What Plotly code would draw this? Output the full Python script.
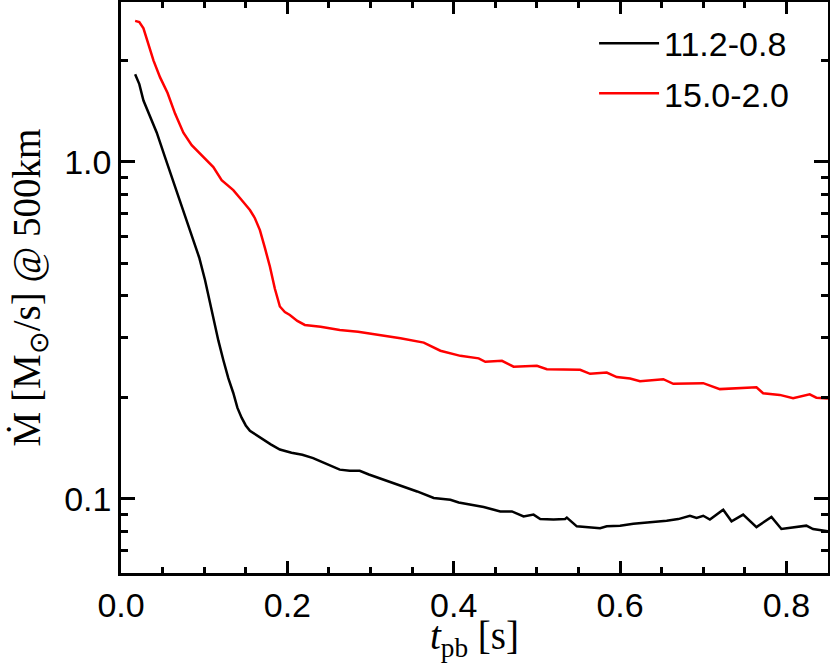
import plotly.graph_objects as go

# 11.2-0.8 model
t_112 = [0.017, 0.022, 0.027, 0.035, 0.043, 0.053, 0.063, 0.071, 0.079, 0.087,
         0.094, 0.101, 0.106, 0.111, 0.117, 0.123, 0.129, 0.135, 0.140, 0.145,
         0.150, 0.155, 0.162, 0.170, 0.180, 0.191, 0.205, 0.218, 0.231, 0.240, 0.250,
         0.263, 0.275, 0.287, 0.298, 0.311, 0.323, 0.336, 0.356, 0.376, 0.396,
         0.406, 0.420, 0.436, 0.456, 0.470, 0.484, 0.496, 0.504, 0.520, 0.534,
         0.536, 0.548, 0.560, 0.576, 0.584, 0.600, 0.616, 0.635, 0.656, 0.670,
         0.684, 0.692, 0.700, 0.708, 0.724, 0.734, 0.748, 0.764, 0.782, 0.794,
         0.810, 0.824, 0.832, 0.846, 0.850]
m_112 = [1.82, 1.70, 1.52, 1.36, 1.22, 1.03, 0.875, 0.766, 0.67, 0.586,
         0.52, 0.446, 0.39, 0.34, 0.295, 0.258, 0.228, 0.206, 0.186, 0.174,
         0.165, 0.159, 0.155, 0.150, 0.145, 0.140, 0.137, 0.135, 0.132, 0.129, 0.126,
         0.122, 0.121, 0.121, 0.118, 0.115, 0.112, 0.1093, 0.1051, 0.1005, 0.0993,
         0.0975, 0.0960, 0.0945, 0.0917, 0.0917, 0.0886, 0.0897, 0.0871, 0.0868, 0.0871,
         0.0879, 0.0828, 0.0822, 0.0818, 0.0828, 0.0832, 0.0843, 0.0850, 0.0861, 0.0870,
         0.0890, 0.0877, 0.0890, 0.0867, 0.0928, 0.0857, 0.0897, 0.0824, 0.0883, 0.0813,
         0.0825, 0.0832, 0.0813, 0.0805, 0.0800]

# 15.0-2.0 model
t_150 = [0.017, 0.022, 0.027, 0.033, 0.039, 0.047, 0.056, 0.065, 0.075, 0.085,
         0.095, 0.103, 0.111, 0.121, 0.135, 0.145, 0.155, 0.161, 0.167, 0.173,
         0.179, 0.185, 0.191, 0.197, 0.203, 0.212, 0.221, 0.240, 0.263, 0.285,
         0.311, 0.336, 0.364, 0.384, 0.408, 0.430, 0.438, 0.458, 0.472, 0.500,
         0.512, 0.552, 0.564, 0.584, 0.596, 0.612, 0.624, 0.652, 0.664, 0.684,
         0.700, 0.720, 0.752, 0.764, 0.772, 0.792, 0.808, 0.828, 0.836, 0.850]
m_150 = [2.62, 2.60, 2.49, 2.22, 2.00, 1.78, 1.60, 1.39, 1.22, 1.12,
         1.06, 1.01, 0.965, 0.882, 0.824, 0.77, 0.719, 0.68, 0.627, 0.555,
         0.489, 0.42, 0.372, 0.358, 0.351, 0.337, 0.328, 0.324, 0.317, 0.313,
         0.306, 0.2996, 0.2906, 0.275, 0.2655, 0.261, 0.255, 0.2566, 0.2466, 0.248,
         0.2424, 0.2413, 0.2348, 0.2368, 0.2296, 0.2273, 0.2233, 0.2264, 0.2193, 0.2193,
         0.2203, 0.2115, 0.213, 0.2143, 0.2057, 0.2033, 0.1988, 0.204, 0.1995, 0.1983]

y_major = [0.1, 1.0]
y_major_text = ["0.1", "1.0"]

fig = go.Figure()
fig.add_trace(go.Scatter(x=t_112, y=m_112, mode="lines", name="11.2-0.8",
                         legendgroup="a", line=dict(color="black", width=2.5)))
fig.add_trace(go.Scatter(x=t_150, y=m_150, mode="lines", name="15.0-2.0",
                         legendgroup="b", line=dict(color="#ff0000", width=2.5)))

sans = "Liberation Sans, Arial, sans-serif"
serif = "Liberation Serif, Times New Roman, serif"

fig.update_xaxes(
    range=[0, 0.85], dtick=0.2, tick0=0, tickformat=".1f",
    ticks="inside", ticklen=12, tickwidth=2.5, tickcolor="black",
    minor=dict(dtick=0.05, tick0=0, ticks="inside", ticklen=6, tickwidth=2.5, tickcolor="black"),
    showline=True, linewidth=2.5, linecolor="black", mirror="ticks",
    showgrid=False, zeroline=False, automargin=False,
    tickfont=dict(family=sans, size=34, color="black"),
    title=dict(text="<i>t</i><sub>pb</sub> [s]", font=dict(family=serif, size=39, color="black"),
               standoff=0),
)
fig.update_yaxes(
    type="log", range=[-1.2204, 0.4742],
    tickmode="array", tickvals=y_major, ticktext=y_major_text,
    ticks="inside", ticklen=14, tickwidth=2.5, tickcolor="black",
    minor=dict(dtick="D1", ticks="inside", ticklen=7, tickwidth=2.5, tickcolor="black"),
    showline=True, linewidth=2.5, linecolor="black", mirror="ticks",
    showgrid=False, zeroline=False, automargin=False,
    tickfont=dict(family=sans, size=34, color="black"),
    # leading no-break spaces nudge the rotated title up a little
    title=dict(text="\u00a0\u00a0\u00a0Ṁ [M<sub>⊙</sub>/s] @ 500km",
               font=dict(family=serif, size=39, color="black"), standoff=12),
)

fig.update_layout(
    width=830, height=663,
    margin=dict(l=121, r=2, t=2, b=90),
    plot_bgcolor="white", paper_bgcolor="white",
    legend=dict(x=0.952, y=0.978, xanchor="right", yanchor="top",
                bgcolor="rgba(0,0,0,0)", font=dict(family=sans, size=34, color="black"),
                tracegroupgap=3, itemwidth=60),
)

# page has a default body margin that would shift the figure
fig.write_html("out.html", config={"displayModeBar": False},
               post_script="document.body.style.margin = '0';")
